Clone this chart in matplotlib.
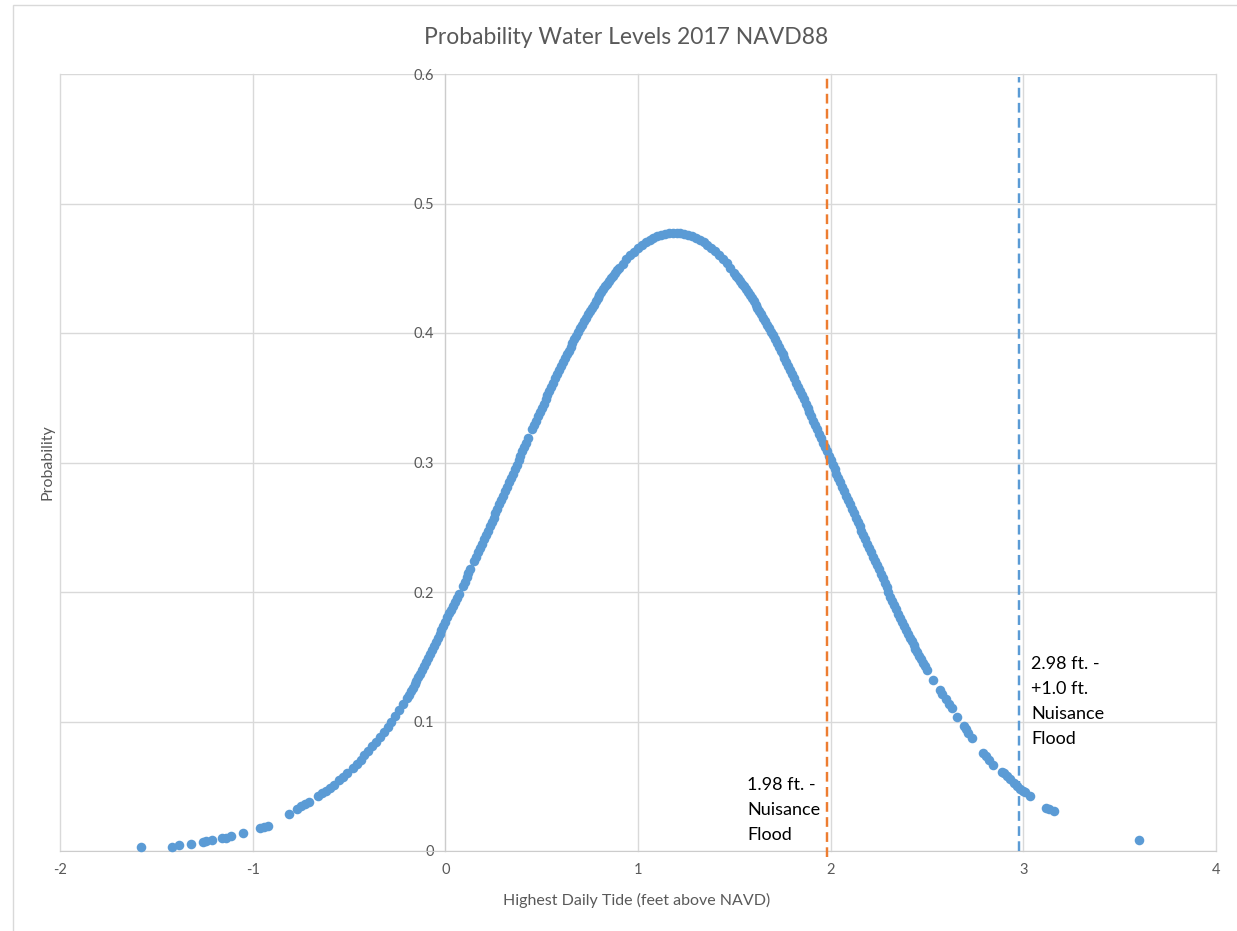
import matplotlib
matplotlib.use('Agg')
import matplotlib.pyplot as plt
from matplotlib.patches import Rectangle

# highest daily tide (ft above NAVD) and the probability plotted for it
tide_ft = [
    -1.58, -1.42, -1.38, -1.32, -1.26, -1.24, -1.21, -1.16, -1.14, -1.11, -1.05,
    -0.96, -0.94, -0.92, -0.81, -0.77, -0.75, -0.73, -0.71,
    -0.66, -0.64, -0.62, -0.60, -0.58, -0.55, -0.53, -0.51, -0.48, -0.46, -0.44,
    -0.42, -0.40, -0.38, -0.36, -0.34, -0.32, -0.30, -0.28, -0.26, -0.24, -0.22,
    -0.20, -0.19, -0.18, -0.17, -0.16, -0.15, -0.14, -0.13, -0.12, -0.11, -0.10,
    -0.09, -0.08, -0.07, -0.06, -0.05, -0.04, -0.03, -0.02, -0.01, 0.00,
    0.01, 0.02, 0.03, 0.04, 0.05, 0.06, 0.07, 0.09, 0.10,
    0.11, 0.12, 0.13, 0.15, 0.16, 0.17, 0.18, 0.19, 0.20,
    0.21, 0.22, 0.23, 0.24, 0.25, 0.26, 0.27, 0.28, 0.29, 0.30,
    0.31, 0.32, 0.33, 0.34, 0.35, 0.36, 0.37, 0.38, 0.39, 0.40,
    0.41, 0.42, 0.43, 0.45, 0.46, 0.47, 0.48, 0.49, 0.50,
    0.51, 0.52, 0.53, 0.54, 0.55, 0.56, 0.57, 0.58, 0.59, 0.60,
    0.61, 0.62, 0.63, 0.64, 0.65, 0.66, 0.67, 0.68, 0.69, 0.70,
    0.71, 0.72, 0.73, 0.74, 0.75, 0.76, 0.77, 0.78, 0.79, 0.80,
    0.81, 0.82, 0.83, 0.84, 0.85, 0.86, 0.87, 0.88, 0.89, 0.90,
    0.92, 0.94, 0.96, 0.98, 1.00, 1.02, 1.04, 1.06, 1.08, 1.10,
    1.12, 1.14, 1.16, 1.18, 1.20, 1.22, 1.24, 1.26, 1.28, 1.30,
    1.32, 1.34, 1.36, 1.38, 1.40, 1.42, 1.44, 1.46, 1.48, 1.50,
    1.51, 1.52, 1.53, 1.54, 1.55, 1.56, 1.57, 1.58, 1.59, 1.60,
    1.61, 1.62, 1.63, 1.64, 1.65, 1.66, 1.67, 1.68, 1.69, 1.70,
    1.71, 1.72, 1.73, 1.74, 1.75, 1.76, 1.77, 1.78, 1.79, 1.80,
    1.81, 1.82, 1.83, 1.84, 1.85, 1.86, 1.87, 1.88, 1.89, 1.90,
    1.91, 1.92, 1.93, 1.94, 1.95, 1.96, 1.97, 1.98, 1.99, 2.00,
    2.01, 2.02, 2.03, 2.04, 2.05, 2.06, 2.07, 2.08, 2.09, 2.10,
    2.11, 2.12, 2.13, 2.14, 2.15, 2.16, 2.17, 2.18, 2.19, 2.20,
    2.21, 2.22, 2.23, 2.24, 2.25, 2.26, 2.27, 2.28, 2.29, 2.30,
    2.31, 2.32, 2.33, 2.34, 2.35, 2.36, 2.37, 2.38, 2.39, 2.40,
    2.41, 2.42, 2.43, 2.44, 2.45, 2.46, 2.47, 2.48, 2.49, 2.50,
    2.53, 2.565, 2.58, 2.60, 2.615, 2.63, 2.655, 2.69, 2.70, 2.715, 2.735,
    2.79, 2.805, 2.82, 2.845, 2.89, 2.90, 2.915, 2.93, 2.95, 2.965, 2.985,
    3.00, 3.01, 3.035, 3.12, 3.135, 3.16, 3.60,
]
probability = [
    0.0030, 0.0034, 0.0044, 0.0052, 0.0070, 0.0077, 0.0085, 0.0097, 0.0104, 0.0112, 0.0138,
    0.0176, 0.0185, 0.0194, 0.0286, 0.0326, 0.0344, 0.0363, 0.0382,
    0.0423, 0.0445, 0.0467, 0.0490, 0.0512, 0.0547, 0.0573, 0.0600, 0.0643, 0.0674, 0.0706,
    0.0738, 0.0772, 0.0807, 0.0843, 0.0880, 0.0918, 0.0958, 0.1000, 0.1043, 0.1088, 0.1135,
    0.1183, 0.1208, 0.1234, 0.1260, 0.1287, 0.1314, 0.1342, 0.1370, 0.1399, 0.1428, 0.1458,
    0.1488, 0.1518, 0.1549, 0.1580, 0.1611, 0.1643, 0.1675, 0.1707, 0.1739, 0.1771,
    0.1804, 0.1834, 0.1864, 0.1894, 0.1924, 0.1955, 0.1987, 0.2049, 0.2080,
    0.2113, 0.2145, 0.2177, 0.2241, 0.2274, 0.2307, 0.2340, 0.2373, 0.2406,
    0.2440, 0.2473, 0.2507, 0.2541, 0.2574, 0.2608, 0.2642, 0.2676, 0.2710, 0.2744,
    0.2778, 0.2813, 0.2847, 0.2881, 0.2915, 0.2950, 0.2984, 0.3018, 0.3052, 0.3086,
    0.3120, 0.3154, 0.3188, 0.3256, 0.3289, 0.3323, 0.3356, 0.3389, 0.3423,
    0.3455, 0.3488, 0.3521, 0.3553, 0.3586, 0.3617, 0.3649, 0.3680, 0.3712, 0.3743,
    0.3773, 0.3804, 0.3834, 0.3864, 0.3894, 0.3923, 0.3951, 0.3980, 0.4008, 0.4037,
    0.4063, 0.4090, 0.4117, 0.4144, 0.4170, 0.4195, 0.4219, 0.4244, 0.4268, 0.4293,
    0.4315, 0.4338, 0.4360, 0.4382, 0.4404, 0.4424, 0.4443, 0.4463, 0.4483, 0.4502,
    0.4536, 0.4570, 0.4600, 0.4628, 0.4656, 0.4678, 0.4699, 0.4718, 0.4733, 0.4748,
    0.4757, 0.4765, 0.4772, 0.4775, 0.4775, 0.4772, 0.4766, 0.4760, 0.4746, 0.4735,
    0.4717, 0.4699, 0.4678, 0.4654, 0.4630, 0.4600, 0.4570, 0.4537, 0.4501, 0.4465,
    0.4444, 0.4423, 0.4403, 0.4382, 0.4361, 0.4338, 0.4315, 0.4292, 0.4269, 0.4245,
    0.4220, 0.4195, 0.4169, 0.4144, 0.4118, 0.4091, 0.4063, 0.4036, 0.4008, 0.3981,
    0.3952, 0.3922, 0.3893, 0.3864, 0.3835, 0.3804, 0.3773, 0.3743, 0.3712, 0.3681,
    0.3649, 0.3617, 0.3585, 0.3553, 0.3521, 0.3488, 0.3455, 0.3422, 0.3389, 0.3356,
    0.3323, 0.3289, 0.3255, 0.3222, 0.3188, 0.3154, 0.3120, 0.3086, 0.3052, 0.3018,
    0.2984, 0.2950, 0.2915, 0.2881, 0.2847, 0.2813, 0.2779, 0.2745, 0.2710, 0.2676,
    0.2642, 0.2608, 0.2574, 0.2541, 0.2507, 0.2473, 0.2440, 0.2407, 0.2373, 0.2340,
    0.2307, 0.2274, 0.2242, 0.2209, 0.2176, 0.2140, 0.2106, 0.2072, 0.2037, 0.1997,
    0.1965, 0.1932, 0.1899, 0.1866, 0.1833, 0.1802, 0.1771, 0.1740, 0.1709, 0.1675,
    0.1647, 0.1618, 0.1590, 0.1562, 0.1533, 0.1506, 0.1479, 0.1452, 0.1425, 0.1398,
    0.1320, 0.1245, 0.1215, 0.1170, 0.1137, 0.1105, 0.1035, 0.0965, 0.0945, 0.0910, 0.0872,
    0.0758, 0.0732, 0.0705, 0.0665, 0.0612, 0.0600, 0.0578, 0.0556, 0.0528, 0.0505, 0.0478,
    0.0465, 0.0452, 0.0428, 0.0332, 0.0322, 0.0308, 0.0085,
]

flood_levels = [1.98, 2.98]
flood_colors = ['#ed7d31', '#5b9bd5']
flood_labels = ['1.98 ft. -\nNuisance\nFlood', '2.98 ft. -\n+1.0 ft.\nNuisance\nFlood']

x_ticks = [-2, -1, 0, 1, 2, 3, 4]
x_tick_labels = ['-2', '-1', '0', '1', '2', '3', '4']
y_ticks = [0, 0.1, 0.2, 0.3, 0.4, 0.5, 0.6]
y_tick_labels = ['0', '0.1', '0.2', '0.3', '0.4', '0.5', '0.6']

plt.rcParams['font.family'] = ['Lato', 'DejaVu Sans']
W, H = 1237, 931
grey = '#595959'
gridc = '#d9d9d9'

fig = plt.figure(figsize=(W / 100, H / 100), dpi=100)
fig.patch.set_facecolor('white')
fig.add_artist(Rectangle((13 / W, -0.1), 1.2, 1.1 - 5 / H, transform=fig.transFigure,
                         fill=False, ec=gridc, lw=1))

ax = fig.add_axes([60 / W, 1 - 851 / H, (1216 - 60) / W, (851 - 74) / H])
ax.set_xlim(-2, 4)
ax.set_ylim(0, 0.6)

ax.plot(tide_ft, probability, 'o', color='#5b9bd5', ms=6.9, mew=0, zorder=3, clip_on=False)

ax.plot([flood_levels[0]] * 2, [-0.005, 0.597], color=flood_colors[0], lw=1.75,
        dashes=(4, 2.2), zorder=4, clip_on=False)
ax.plot([flood_levels[1]] * 2, [0, 0.598], color=flood_colors[1], lw=1.75,
        dashes=(4, 2.2), zorder=4, clip_on=False)

ax.text(1.567, 0.0575, flood_labels[0], ha='left', va='top', fontsize=13,
        color='black', linespacing=1.7, zorder=5)
ax.text(3.040, 0.1505, flood_labels[1], ha='left', va='top', fontsize=13,
        color='black', linespacing=1.7, zorder=5)

ax.set_xticks(x_ticks)
ax.set_xticklabels(x_tick_labels)
ax.set_yticks(y_ticks)
ax.set_yticklabels(y_tick_labels)
ax.tick_params(axis='both', length=0, labelsize=10.5, labelcolor=grey)
ax.tick_params(axis='x', pad=9)
ax.tick_params(axis='y', pad=8)

ax.grid(True, color=gridc, lw=1, zorder=0)
ax.set_axisbelow(True)
for gl in ax.get_xgridlines() + ax.get_ygridlines():
    gl.set_clip_on(False)

for side in ['top', 'right']:
    ax.spines[side].set_visible(False)
ax.spines['left'].set_position(('data', 0))
ax.spines['left'].set_color('#cccccc')
ax.spines['bottom'].set_color('#cccccc')

fig.text(626 / W, 1 - 37 / H, 'Probability Water Levels 2017 NAVD88', ha='center',
         va='center', fontsize=16.5, color=grey)
fig.text(637 / W, 1 - 900 / H, 'Highest Daily Tide (feet above NAVD)', ha='center',
         va='center', fontsize=11.5, color=grey)
fig.text(47 / W, 1 - 462 / H, 'Probability', ha='center', va='center', rotation=90,
         fontsize=11.5, color=grey)

fig.savefig('out.png', dpi=100)
